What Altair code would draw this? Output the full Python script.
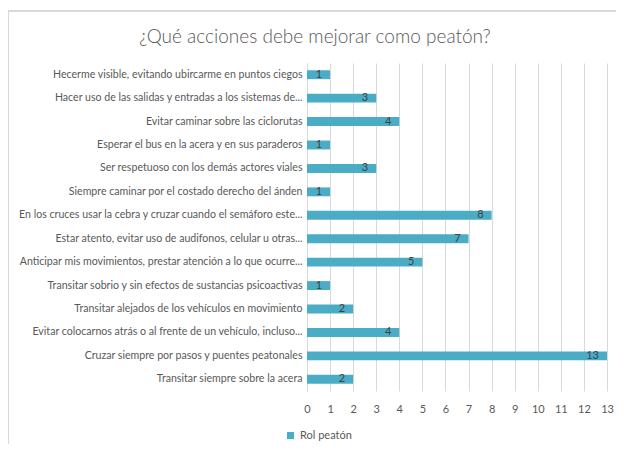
import altair as alt
import pandas as pd

title_text = ["¿Qué acciones debe mejorar como peatón?"]
categories = [
    "Hecerme visible, evitando ubircarme en puntos ciegos",
    "Hacer uso de las salidas y entradas a los sistemas de...",
    "Evitar caminar sobre las ciclorutas",
    "Esperar el bus en la acera y en sus paraderos",
    "Ser respetuoso con los demás actores viales",
    "Siempre caminar por el costado derecho del ánden",
    "En los cruces usar la cebra y cruzar cuando el semáforo este...",
    "Estar atento, evitar uso de audifonos, celular u otras...",
    "Anticipar mis movimientos, prestar atención a lo que ocurre...",
    "Transitar sobrio y sin efectos de sustancias psicoactivas",
    "Transitar alejados de los vehículos en movimiento",
    "Evitar colocarnos atrás o al frente de un vehículo, incluso...",
    "Cruzar siempre por pasos y puentes peatonales",
    "Transitar siempre sobre la acera",
]
values = [1, 3, 4, 1, 3, 1, 8, 7, 5, 1, 2, 4, 13, 2]
series = ["Rol peatón"] * len(categories)
x_ticks = list(range(0, 14))

df = pd.DataFrame({"accion": categories, "n": values, "serie": series})
tdf = pd.DataFrame({"t": title_text})

FONT = "Lato"
TXT = "#595959"

y_enc = alt.Y("accion:N", sort=categories, title=None,
              scale=alt.Scale(paddingInner=0.62, paddingOuter=0.31),
              axis=alt.Axis(labelFontSize=10.6, labelColor=TXT, labelFont=FONT,
                            labelLimit=0, labelPadding=5, ticks=False,
                            domainColor="#d9d9d9", grid=False))
x_enc = alt.X("n:Q", title=None,
              scale=alt.Scale(domain=[0, 13], nice=False),
              axis=alt.Axis(values=x_ticks, labelFontSize=11,
                            labelColor=TXT, labelOverlap=False, labelFlush=False,
                            labelFont=FONT, ticks=False, domain=False,
                            gridColor="#d9d9d9", labelPadding=12))

bars = alt.Chart(df).mark_bar(color="#4BACC6").encode(
    x=x_enc, y=y_enc,
    color=alt.Color("serie:N", scale=alt.Scale(range=["#4BACC6"]),
                    legend=alt.Legend(title=None, orient="none", legendX=-22, legendY=367,
                                      symbolType="square", symbolSize=50,
                                      labelFont=FONT, labelFontSize=11, labelColor=TXT)),
)

labels = alt.Chart(df).mark_text(align="right", dx=-8, fontSize=11, font=FONT,
                                 color="#404040").encode(
    x=x_enc, y=y_enc, text="n:Q")

title = alt.Chart(tdf).mark_text(fontSize=19, font=FONT, fontWeight=300, color=TXT,
                                 align="center", baseline="alphabetic").encode(
    x=alt.value(8), y=alt.value(-20), text="t:N")

frame_top = alt.Chart(df).mark_rule(color="#d9d9d9").encode(
    x=alt.value(-299), x2=alt.value(320), y=alt.value(-52))
frame_left = alt.Chart(df).mark_rule(color="#d9d9d9").encode(
    x=alt.value(-298.5), y=alt.value(-52), y2=alt.value(390))

chart = alt.layer(frame_top, frame_left, title, bars, labels).properties(
    width=300, height=328,
    autosize=alt.AutoSizeParams(type="none"),
    padding={"left": 299, "top": 55, "right": 9, "bottom": 53},
).configure_view(stroke=None)

chart.save("out.html", embed_options={"renderer": "svg", "actions": False})
